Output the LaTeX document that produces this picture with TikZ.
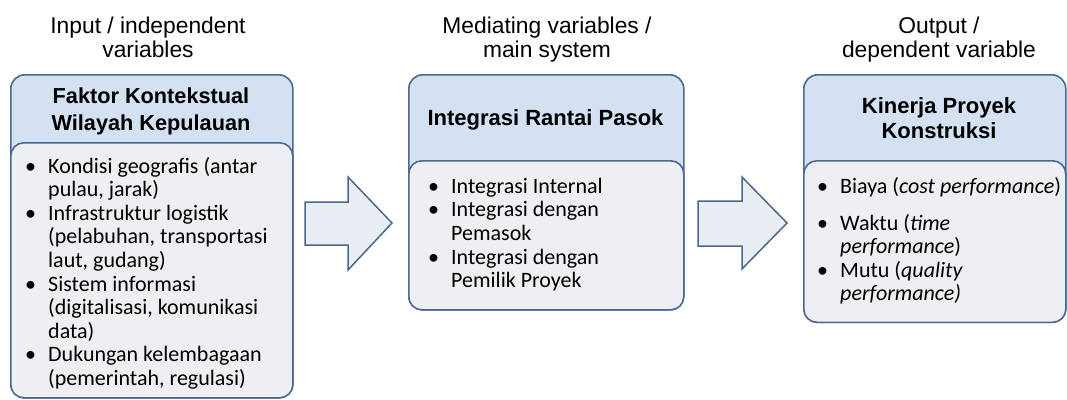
\documentclass[tikz,border=0pt]{standalone}
\usepackage{fontspec}
\setmainfont{Carlito}
\newfontfamily\arialf{Liberation Sans}
\definecolor{bordc}{HTML}{4A6890}
\definecolor{headc}{HTML}{D4E1F2}
\definecolor{innc}{HTML}{EEEFF2}
\definecolor{arrc}{HTML}{E9EEF5}
\newcommand\bul{\hangindent=24pt\hangafter=1\noindent\hbox to 24pt{\hskip1pt\textbullet\hfil}}
\tikzset{
  outerbox/.style={draw=bordc, fill=headc, line width=1.6pt, rounded corners=14pt, anchor=north west, inner sep=0pt},
  innerbox/.style={draw=bordc, fill=innc, line width=1.6pt, rounded corners=13pt, anchor=north west, inner sep=0pt},
  blockarrow/.style={draw=bordc, fill=arrc, line width=1.5pt, line join=miter},
  txt/.style={inner sep=0pt, anchor=base west, text=black},
  head/.style={inner sep=0pt, anchor=base, text=black},
}
\begin{document}
\begin{tikzpicture}[x=1pt,y=-1pt]
\useasboundingbox[fill=white] (0,0) rectangle (1067,399);

% titles
\node[head] (t1) at (148,33) {\parbox[t]{300pt}{\centering\arialf\fontsize{22.8}{24}\selectfont Input / independent\\ variables}};
\node[head] (t2) at (547,33) {\parbox[t]{300pt}{\centering\arialf\fontsize{22.8}{24}\selectfont Mediating variables /\\ main system}};
\node[head] (t3) at (939,33) {\parbox[t]{300pt}{\centering\arialf\fontsize{22.8}{24}\selectfont Output /\\ dependent variable}};

% left box
\node[outerbox, minimum width=282pt, minimum height=323pt] (lbox) at (10,74) {};
\node[innerbox, minimum width=282pt, minimum height=255pt] (lin) at (10,142) {};
\node[head] (lh) at (151,103) {\parbox[t]{270pt}{\centering\arialf\bfseries\fontsize{21.7}{27}\selectfont Faktor Kontekstual\\ Wilayah Kepulauan}};
\node[txt] (lt) at (24,173) {\parbox[t]{265pt}{\raggedright\fontsize{22}{23.6}\selectfont
\bul Kondisi geografis (antar\newline pulau, jarak)\par
\bul Infrastruktur logistik\newline (pelabuhan, transportasi\newline laut, gudang)\par
\bul Sistem informasi\newline (digitalisasi, komunikasi\newline data)\par
\bul Dukungan kelembagaan\newline (pemerintah, regulasi)\par}};

% middle box
\node[outerbox, minimum width=275pt, minimum height=235pt] (mbox) at (408,74) {};
\node[innerbox, minimum width=275pt, minimum height=149pt] (min) at (408,160) {};
\node[head] (mh) at (545.5,125) {\parbox[t]{270pt}{\centering\arialf\bfseries\fontsize{22}{27}\selectfont Integrasi Rantai Pasok}};
\node[txt] (mt) at (427,193) {\parbox[t]{250pt}{\raggedright\fontsize{22}{23.7}\selectfont
\bul Integrasi Internal\par
\bul Integrasi dengan\newline Pemasok\par
\bul Integrasi dengan\newline Pemilik Proyek\par}};

% right box
\node[outerbox, minimum width=262pt, minimum height=247.5pt] (rbox) at (803,74) {};
\node[innerbox, minimum width=262pt, minimum height=161.5pt] (rin) at (803,160) {};
\node[head] (rh) at (939,113) {\parbox[t]{250pt}{\centering\arialf\bfseries\fontsize{22}{25.5}\selectfont Kinerja Proyek\\ Konstruksi}};
\node[txt] (rt) at (816,193) {\parbox[t]{250pt}{\raggedright\fontsize{22}{23.6}\selectfont
\bul Biaya (\textit{cost performance})\par\vspace{13.5pt}
\bul Waktu (\textit{time}\newline \textit{performance})\par
\bul Mutu (\textit{quality}\newline \textit{performance)}\par}};

% block arrows
\draw[blockarrow] (305,202) -- (348,202) -- (348,177) -- (392,223) -- (348,270) -- (348,245) -- (305,245) -- cycle;
\draw[blockarrow] (698,201) -- (742,201) -- (742,177) -- (787,223) -- (742,269) -- (742,246) -- (698,246) -- cycle;
\end{tikzpicture}
\end{document}
